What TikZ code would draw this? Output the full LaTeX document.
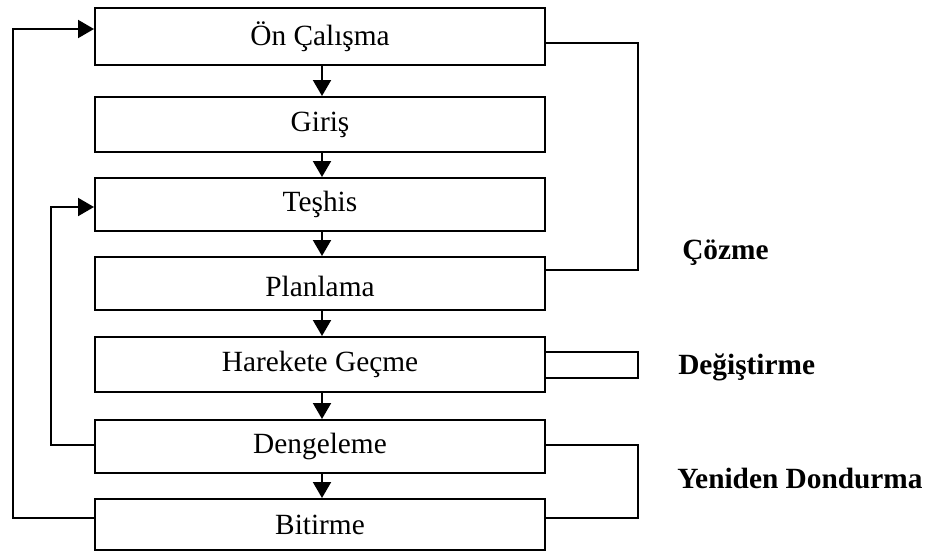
\documentclass[tikz,border=0pt]{standalone}
\usepackage{fontspec}
\setmainfont{Liberation Serif}
\usetikzlibrary{arrows.meta}
\begin{document}
\begin{tikzpicture}[x=0.75pt,y=-0.75pt,
  stage/.style={draw, line width=1.5pt, rectangle, minimum width=337.5pt, inner sep=0pt,
    font=\fontsize{22}{24}\selectfont},
  conn/.style={line width=1.5pt},
  arr/.style={line width=1.5pt, -{Triangle[width=13.5pt,length=12pt]}},
  lbl/.style={anchor=west, inner sep=0pt, font=\fontsize{22}{24}\selectfont\bfseries}]
\useasboundingbox (0,0) rectangle (928,554);
\node[stage, minimum height=42.75pt] (b1) at (320,36.5) {Ön Çalışma};
\node[stage, minimum height=41.25pt] (b2) at (320,124.5) {Giriş};
\node[stage, minimum height=39.75pt] (b3) at (320,204.5) {Teşhis};
\node[stage, minimum height=39.75pt] (b4) at (320,283.5) {\raisebox{-10pt}[0pt][0pt]{Planlama}};
\node[stage, minimum height=41.25pt] (b5) at (320,364.5) {Harekete Geçme};
\node[stage, minimum height=39.75pt] (b6) at (320,446.5) {Dengeleme};
\node[stage, minimum height=38.25pt] (b7) at (320,524.5) {Bitirme};
\foreach \a/\b in {b1/b2,b2/b3,b3/b4,b4/b5,b5/b6,b6/b7}
  \draw[arr] (\a.south -| 322,0) -- (\b.north -| 322,0);
\coordinate (ol) at (13,0);
\coordinate (il) at (51,0);
\coordinate (rr) at (638,0);
\draw[arr] (b7.west |- 0,518) -| (ol |- 0,29) -- (b1.west |- 0,29);
\draw[arr] (b6.west |- 0,445) -| (il |- 0,207) -- (b3.west |- 0,207);
\draw[conn] (b1.east |- 0,43) -| (rr |- 0,270) -- (b4.east |- 0,270);
\draw[conn] (b5.east |- 0,352) -| (rr |- 0,378) -- (b5.east |- 0,378);
\draw[conn] (b6.east |- 0,445) -| (rr |- 0,518) -- (b7.east |- 0,518);
\node[lbl] (c) at (682,253) {Çözme};
\node[lbl] (d) at (678,367) {Değiştirme};
\node[lbl] (y) at (677,478) {Yeniden Dondurma};
\end{tikzpicture}
\end{document}
